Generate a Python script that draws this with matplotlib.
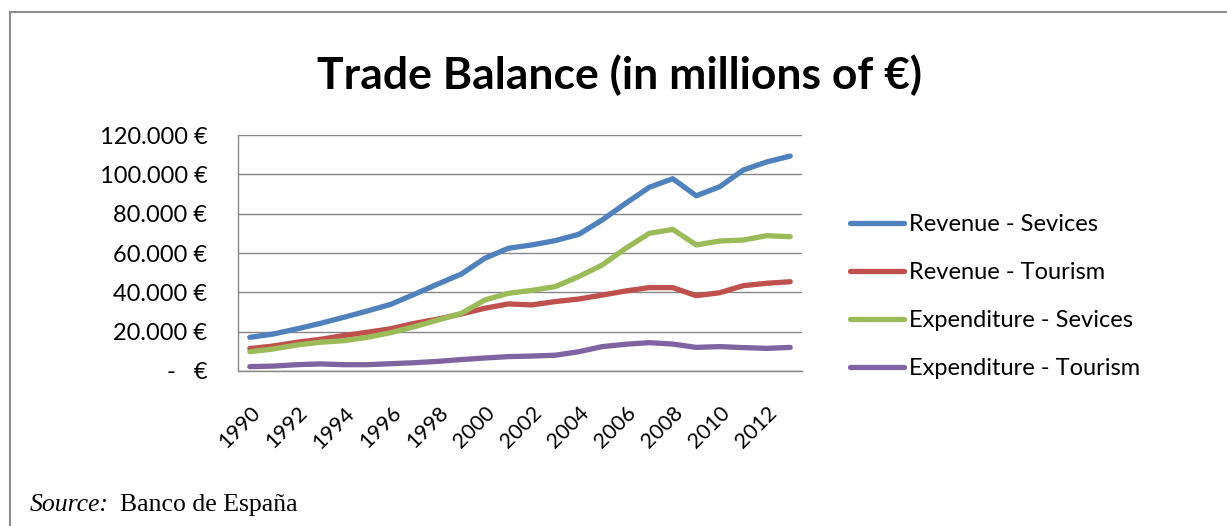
import matplotlib

matplotlib.use("Agg")
import matplotlib.pyplot as plt
from matplotlib.patches import Rectangle
from matplotlib.ticker import FuncFormatter, MultipleLocator

years = list(range(1990, 2014))

revenue_services = [
    17100, 18800, 21400, 24200, 27300, 30500, 33900, 39000, 44200, 49300,
    57300, 62400, 64100, 66300, 69500, 76800, 85300, 93400, 97800, 89100,
    93700, 102200, 106300, 109300,
]
revenue_tourism = [
    11400, 12700, 14600, 16100, 18000, 19700, 21500, 24200, 26400, 29000,
    31900, 34100, 33600, 35300, 36600, 38600, 40700, 42400, 42400, 38300,
    39800, 43400, 44600, 45400,
]
expenditure_services = [
    9800, 11200, 13200, 14600, 15400, 17100, 19500, 22500, 25900, 29300,
    36100, 39500, 41000, 42900, 48000, 53900, 62400, 70000, 72000, 64100,
    66100, 66600, 68800, 68300,
]
expenditure_tourism = [
    2200, 2500, 3200, 3600, 3200, 3200, 3700, 4200, 4900, 5800,
    6600, 7300, 7600, 8000, 9800, 12400, 13600, 14400, 13700, 12000,
    12400, 11900, 11500, 12000,
]

series = [
    ("Revenue - Sevices", revenue_services, "#4F81BD"),
    ("Revenue - Tourism", revenue_tourism, "#C0504D"),
    ("Expenditure - Sevices", expenditure_services, "#9BBB59"),
    ("Expenditure - Tourism", expenditure_tourism, "#8064A2"),
]

plt.rcParams["font.family"] = ["Lato", "DejaVu Sans"]

fig = plt.figure(figsize=(12.27, 5.26), dpi=100)
ax = fig.add_axes([0.194, 0.2947, 0.4596, 0.4486])

positions = list(range(len(years)))
for label, values, color in series:
    ax.plot(positions, values, color=color, linewidth=3.8, label=label,
            solid_capstyle="round", solid_joinstyle="round")

ax.set_xlim(-0.5, len(years) - 0.5)
ax.set_ylim(0, 120000)
ax.yaxis.set_major_locator(MultipleLocator(20000))


def euro(value, _pos):
    if value == 0:
        return "-   €"
    return f"{int(value):,} €".replace(",", ".")


ax.yaxis.set_major_formatter(FuncFormatter(euro))
ax.grid(axis="y", color="#868686", linewidth=1.0)
ax.set_axisbelow(True)

ax.set_xticks(positions[::2])
ax.set_xticklabels([str(y) for y in years[::2]], rotation=45, ha="right",
                   rotation_mode="anchor", fontsize=15.5)
ax.tick_params(axis="x", length=0, pad=23)
ax.tick_params(axis="y", length=0, pad=22, labelsize=17)

for side in ("top", "right"):
    ax.spines[side].set_visible(False)
for side in ("left", "bottom"):
    ax.spines[side].set_color("#868686")
    ax.spines[side].set_linewidth(1.0)

fig.legend(loc="center left", bbox_to_anchor=(0.6927, 0.4363), frameon=False,
           fontsize=17, handlelength=2.3, handletextpad=0.2, labelspacing=1.14,
           borderpad=0, borderaxespad=0)

fig.text(0.5045, 0.857, "Trade Balance (in millions of €)", ha="center",
         va="center", fontsize=32, fontweight="bold")

fig.text(0.0245, 0.04, "Source:", fontsize=18.5, style="italic",
         family="Liberation Serif", va="center")
fig.text(0.0978, 0.04, "Banco de España", fontsize=18.5,
         family="Liberation Serif", va="center")

fig.patches.append(Rectangle((0.008, -0.05), 1.1, 1.027, transform=fig.transFigure,
                             fill=False, edgecolor="#8C8C8C", linewidth=1.5))

fig.savefig("out.png", dpi=100)
